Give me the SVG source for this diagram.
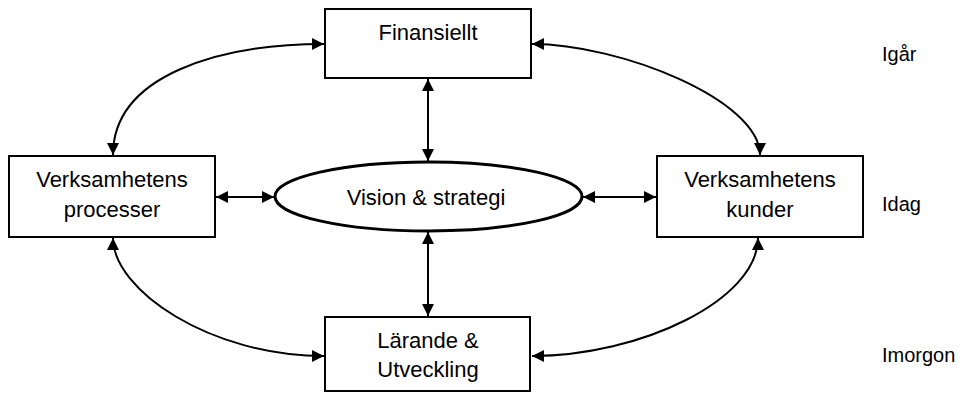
<svg xmlns="http://www.w3.org/2000/svg" width="971" height="394" viewBox="0 0 971 394">
  <style>
    .box { fill: #ffffff; stroke: #000000; stroke-width: 2; }
    .oval { fill: #ffffff; stroke: #000000; stroke-width: 3; }
    .label { font-family: "Liberation Sans", "DejaVu Sans", sans-serif; font-size: 22px; fill: #000000; text-anchor: middle; }
    .time { font-family: "Liberation Sans", "DejaVu Sans", sans-serif; font-size: 20px; fill: #000000; }
    .link { fill: none; stroke: #000000; stroke-width: 2; marker-start: url(#head); marker-end: url(#head); }
  </style>
  <defs>
    <marker id="head" viewBox="0 0 10 10" refX="10" refY="5" markerUnits="userSpaceOnUse" markerWidth="13" markerHeight="12" orient="auto-start-reverse">
      <path d="M0,0 L10,5 L0,10 z" fill="#000000"/>
    </marker>
  </defs>

  <rect width="971" height="394" fill="#ffffff"/>

  <!-- connectors -->
  <g id="connectors">
    <line class="link" x1="428" y1="79" x2="428" y2="161"/>
    <line class="link" x1="428" y1="232" x2="428" y2="316"/>
    <line class="link" x1="216" y1="197" x2="274" y2="197"/>
    <line class="link" x1="583" y1="197" x2="656" y2="197"/>
    <path class="link" d="M324,44 C220,44 113,75 113,155"/>
    <path class="link" d="M532,44 C620,44 760,100 760,155"/>
    <path class="link" d="M113,238 C113,290 210,356 324,356"/>
    <path class="link" d="M758,238 C758,300 640,356 532,356"/>
  </g>

  <!-- nodes -->
  <g id="finansiellt">
    <rect class="box" x="325" y="9" width="206" height="69"/>
    <text class="label" x="428" y="40">Finansiellt</text>
  </g>
  <g id="processer">
    <rect class="box" x="9" y="156" width="206" height="81"/>
    <text class="label" x="112" y="187">Verksamhetens</text>
    <text class="label" x="112" y="217">processer</text>
  </g>
  <g id="vision">
    <ellipse class="oval" cx="428.5" cy="196.5" rx="153.5" ry="34.5"/>
    <text class="label" x="426" y="205" font-size="23">Vision &amp; strategi</text>
  </g>
  <g id="kunder">
    <rect class="box" x="657" y="156" width="206" height="81"/>
    <text class="label" x="760" y="187">Verksamhetens</text>
    <text class="label" x="760" y="217">kunder</text>
  </g>
  <g id="larande">
    <rect class="box" x="325" y="317" width="205" height="74"/>
    <text class="label" x="428" y="348">Lärande &amp;</text>
    <text class="label" x="428" y="377">Utveckling</text>
  </g>

  <!-- time labels -->
  <g id="tidsaxel">
    <text class="time" x="882" y="61">Igår</text>
    <text class="time" x="882" y="211">Idag</text>
    <text class="time" x="882" y="362">Imorgon</text>
  </g>
</svg>
